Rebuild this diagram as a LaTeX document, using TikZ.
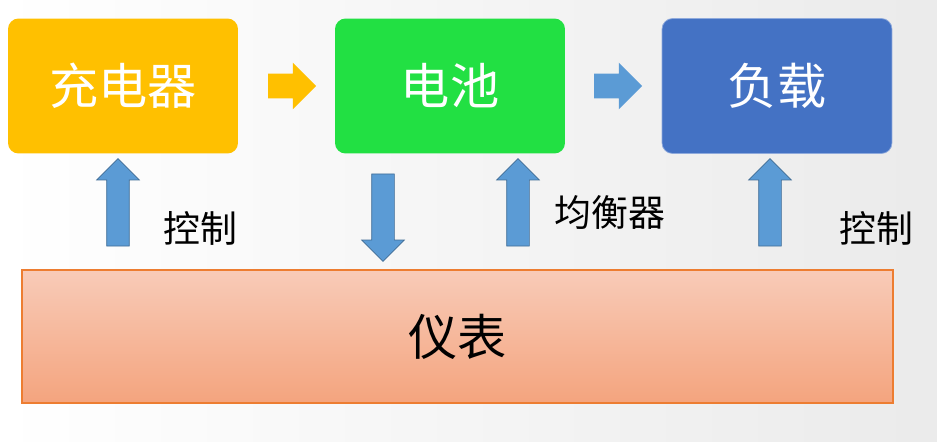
\documentclass[tikz,border=0pt]{standalone}
\usepackage{fontspec}
\newfontfamily\cjk{Noto Sans CJK SC}
\usetikzlibrary{shapes.arrows}
\definecolor{chargeC}{HTML}{FFC000}
\definecolor{cellC}{HTML}{22E043}
\definecolor{loadC}{HTML}{4472C4}
\definecolor{flowC}{HTML}{5B9BD5}
\definecolor{meterTop}{HTML}{F8CBB8}
\definecolor{meterBot}{HTML}{F4A47E}
\definecolor{meterEdge}{HTML}{ED7D31}

\begin{document}
\begin{tikzpicture}[x=0.02cm, y=-0.02cm]
  \tikzset{block/.style={rounded corners=6pt, text=white, font=\cjk\fontsize{28}{32}\selectfont,
             minimum width=4.6cm, minimum height=2.7cm},
           hflow/.style={single arrow, draw=none, inner xsep=0pt, inner ysep=0.24cm,
             single arrow head extend=0.22cm, single arrow head indent=0cm, minimum height=0.96cm},
           vflow/.style={single arrow, draw=flowC!70!black, fill=flowC, inner xsep=0pt, inner ysep=0.22cm,
             single arrow head extend=0.2cm, minimum height=1.75cm},
           note/.style={font=\cjk\fontsize{21}{24}\selectfont}}
  \shade[left color=white, right color=black!8] (0,0) rectangle (937,441);
  \useasboundingbox (0,0) rectangle (937,441);
  % top row
  \node[block, fill=chargeC] (charger) at (123,86) {充电器};
  \node[block, fill=cellC] (battery) at (450,86) {电池};
  \node[block, fill=loadC, draw=loadC!60!white] (load) at (777,86) {负载};
  \node[hflow, fill=chargeC] (a1) at (286,86) {};
  \node[hflow, fill=flowC] (a2) at (612,86) {};
  % meter
  \node[draw=meterEdge, thick, top color=meterTop, bottom color=meterBot,
        minimum width=17.42cm, minimum height=2.66cm,
        font=\cjk\fontsize{28}{32}\selectfont] (meter) at (457.5,336.5) {仪表};
  % vertical arrows
  \node[vflow, rotate=90] (u1) at (118,208) {};
  \node[vflow, rotate=-90] (d1) at (383,212) {};
  \node[vflow, rotate=90] (u2) at (518,208) {};
  \node[vflow, rotate=90] (u3) at (770,208) {};
  \node[note] (t1) at (200,228) {控制};
  \node[note] (t2) at (610,213) {均衡器};
  \node[note] (t3) at (876,228) {控制};
\end{tikzpicture}
\end{document}
